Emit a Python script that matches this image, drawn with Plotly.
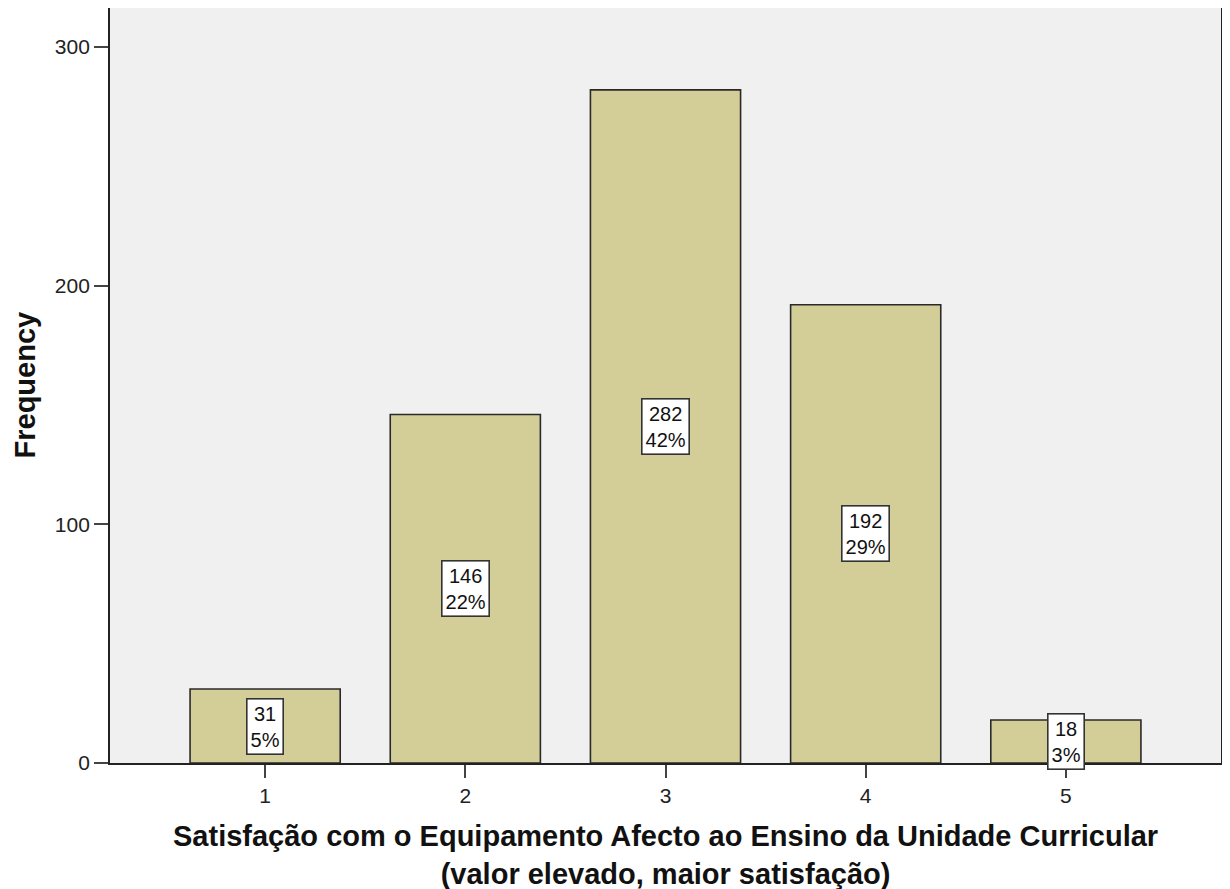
import plotly.graph_objects as go

categories = [1, 2, 3, 4, 5]
counts = [31, 146, 282, 192, 18]
percents = ["5%", "22%", "42%", "29%", "3%"]
y_ticks = [0, 100, 200, 300]
x_title = "Satisfação com o Equipamento Afecto ao Ensino da Unidade Curricular<br>(valor elevado, maior satisfação)"
y_title = "Frequency"

FONT = "Liberation Sans, Arial, sans-serif"

fig = go.Figure()
fig.add_trace(go.Bar(
    x=categories, y=counts, width=0.75,
    marker=dict(color="#D3CE97", line=dict(color="#2A2A2A", width=1.6)),
    hoverinfo="x+y",
))

for c, v, p in zip(categories, counts, percents):
    fig.add_annotation(
        x=c, y=v / 2, text=f"{v}<br>{p}", showarrow=False,
        font=dict(family=FONT, size=20, color="#111111"),
        bgcolor="white", bordercolor="#333333", borderwidth=1.6, borderpad=3,
        align="center",
    )

# axis titles
fig.add_annotation(
    xref="paper", yref="paper", x=0, y=0.5, xanchor="center", yanchor="middle",
    xshift=-86, textangle=-90, text=f"<b>{y_title}</b>", showarrow=False,
    font=dict(family=FONT, size=29, color="#111111"),
)
fig.add_annotation(
    xref="paper", yref="paper", x=0.5, y=0, xanchor="center", yanchor="top",
    yshift=-55, text=f"<b>{x_title}</b>", showarrow=False, align="center",
    font=dict(family=FONT, size=29, color="#111111"),
)

fig.update_layout(
    width=1230, height=889,
    margin=dict(l=102, r=17, t=0, b=134),
    paper_bgcolor="white", plot_bgcolor="#F0F0F0",
    font=dict(family=FONT, size=21, color="#222222"),
    showlegend=False,
)
fig.update_xaxes(
    range=[0.225, 5.775], tickvals=categories, ticktext=[str(c) for c in categories],
    showgrid=False, zeroline=False, showline=True, linecolor="#222222", linewidth=1.8,
    mirror=True, ticks="outside", ticklen=13, tickwidth=1.8, tickcolor="#444444",
    tickfont=dict(size=21), automargin=False,
)
fig.update_yaxes(
    range=[0, 316.3], tickvals=y_ticks,
    showgrid=False, zeroline=False, showline=True, linecolor="#222222", linewidth=1.8,
    mirror=True, ticks="outside", ticklen=14, tickwidth=1.8, tickcolor="#444444",
    tickfont=dict(size=21), automargin=False,
)

fig.write_html("out.html")
